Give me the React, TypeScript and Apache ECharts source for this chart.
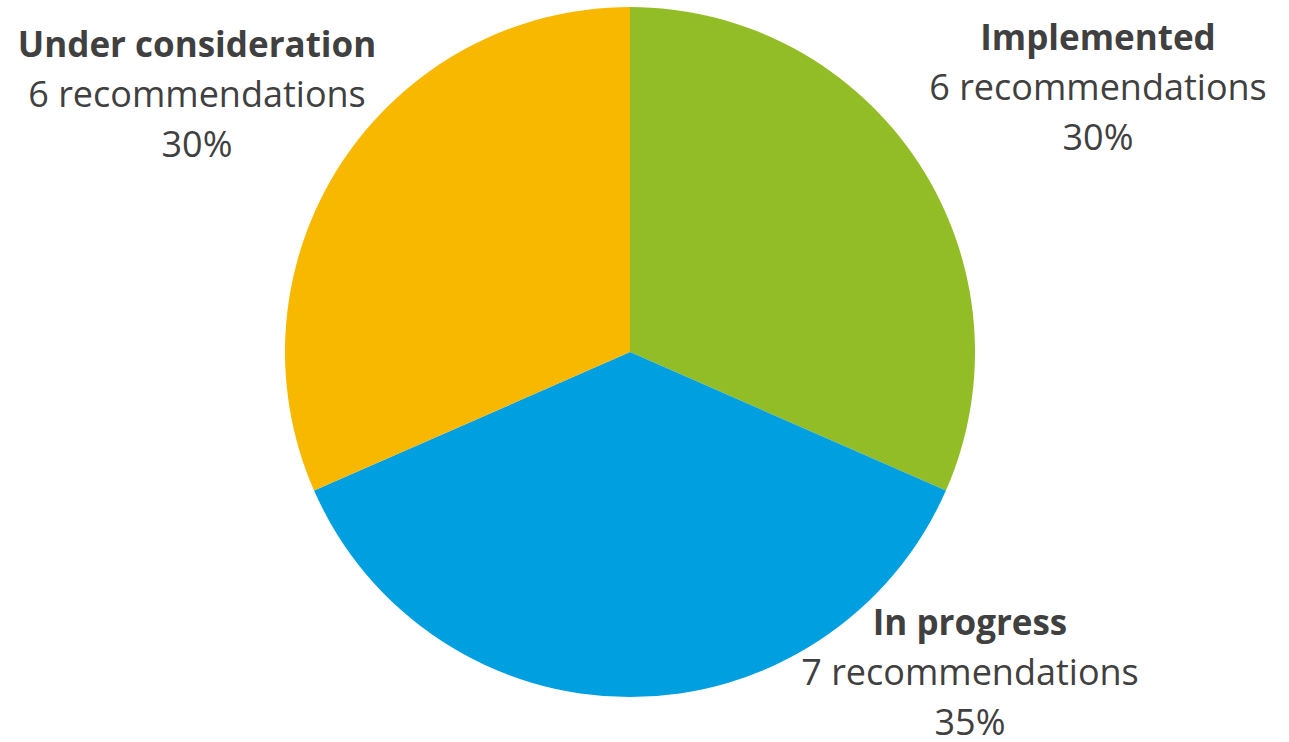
import React, { useEffect, useRef } from "react";
import * as echarts from "echarts";

const categories = ["Implemented", "In progress", "Under consideration"];
const counts = [6, 7, 6];
const percentLabels = ["30%", "35%", "30%"];
const colors = ["#93BD26", "#009FDF", "#F8B800"];

// label anchor positions (px) for each slice, in the same order
const labelPos = [
  [1098, 86],
  [970, 671],
  [197, 93],
];

export default function App() {
  const ref = useRef<HTMLDivElement>(null);
  useEffect(() => {
    if (!ref.current) return;
    const chart = echarts.init(ref.current, undefined, { renderer: "svg" });
    const font = "'Open Sans', Lato, sans-serif";
    const fs = 36;
    chart.setOption({
      animation: false,
      backgroundColor: "#ffffff",
      series: [
        {
          type: "pie",
          center: [630, 352],
          radius: [0, 345],
          startAngle: 90,
          clockwise: true,
          silent: true,
          data: categories.map((c, i) => ({
            name: c,
            value: counts[i],
            itemStyle: { color: colors[i] },
            label: {
              formatter: `{b|${c}}\n{n|${counts[i]} recommendations}\n{p|${percentLabels[i]}}`,
            },
          })),
          label: {
            show: true,
            position: "outside",
            align: "center",
            overflow: "none",
            alignTo: "none",
            rich: {
              b: { fontFamily: font, fontWeight: "bold", fontSize: fs - 1, color: "#404040", lineHeight: 50, align: "center" },
              n: { fontFamily: font, fontSize: fs, color: "#404040", lineHeight: 50, align: "center" },
              p: { fontFamily: font, fontSize: fs, color: "#404040", lineHeight: 50, align: "center" },
            },
          },
          labelLine: { show: false },
          labelLayout: (params: any) => {
            const p = labelPos[params.dataIndex];
            return { x: p[0], y: p[1], align: "center", verticalAlign: "middle", hideOverlap: false };
          },
        },
      ],
    });
    return () => chart.dispose();
  }, []);
  return (
    <div
      ref={ref}
      style={{ position: "absolute", left: 0, top: 0, width: 1289, height: 742 }}
    />
  );
}
